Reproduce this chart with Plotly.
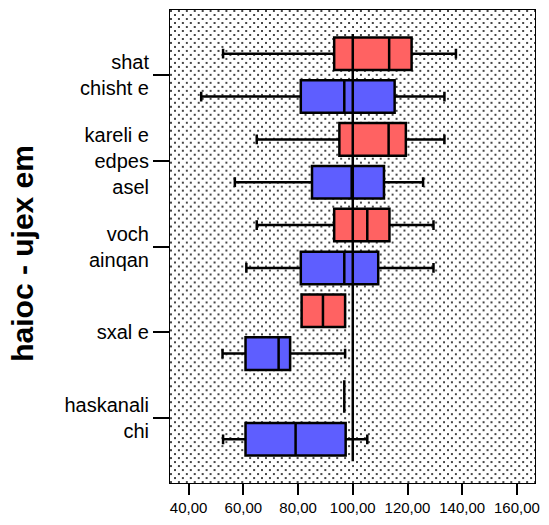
import zlib, struct, base64
import plotly.graph_objects as go

# ---------------- data ----------------
categories = ["shat<br>chisht e", "kareli e<br>edpes<br>asel", "voch<br>ainqan", "sxal e", "haskanali<br>chi"]

red_q1 = [93.2, 95.1, 93.2, 81.3, 96.9]
red_median = [113.3, 113.1, 105.3, 89.1, 96.9]
red_q3 = [121.5, 119.4, 113.4, 97.2, 96.9]
red_low = [52.6, 64.9, 64.9, 81.3, 96.9]
red_high = [137.7, 133.5, 129.5, 97.2, 96.9]

blue_q1 = [81.0, 85.1, 81.0, 60.8, 60.8]
blue_median = [96.9, 99.6, 96.9, 72.9, 79.1]
blue_q3 = [115.3, 111.4, 109.3, 77.1, 97.4]
blue_low = [44.6, 56.9, 61.1, 52.4, 52.6]
blue_high = [133.5, 125.7, 129.5, 97.2, 105.3]

x_ticks = [40, 60, 80, 100, 120, 140, 160]
reference_value = 100

# ---------------- dotted background image ----------------
W, H = 369, 474
def make_png(w, h):
    rows = []
    for y in range(h):
        row = bytearray(b'\x00')
        for x in range(w):
            mx, my = x % 8, y % 8
            dot = (mx < 2 and my < 2) or (4 <= mx < 6 and 4 <= my < 6)
            row.append(70 if dot else 255)
        rows.append(bytes(row))
    raw = b''.join(rows)
    def chunk(t, d):
        c = struct.pack('>I', len(d)) + t + d
        return c + struct.pack('>I', zlib.crc32(t + d) & 0xffffffff)
    return (b'\x89PNG\r\n\x1a\n'
            + chunk(b'IHDR', struct.pack('>IIBBBBB', w, h, 8, 0, 0, 0, 0))
            + chunk(b'IDAT', zlib.compress(raw))
            + chunk(b'IEND', b''))
bg_uri = "data:image/png;base64," + base64.b64encode(make_png(W, H)).decode()

FONT = "Liberation Sans, Arial, sans-serif"

fig = go.Figure()
fig.add_trace(go.Box(
    name="red", orientation="h", y=categories,
    q1=red_q1, median=red_median, q3=red_q3,
    lowerfence=red_low, upperfence=red_high,
    fillcolor="#FF6262", line=dict(color="black", width=2.5),
    whiskerwidth=0.3, boxpoints=False, showlegend=False,
))
fig.add_trace(go.Box(
    name="blue", orientation="h", y=categories,
    q1=blue_q1, median=blue_median, q3=blue_q3,
    lowerfence=blue_low, upperfence=blue_high,
    fillcolor="#5E5EFF", line=dict(color="black", width=2.5),
    whiskerwidth=0.3, boxpoints=False, showlegend=False,
))

fig.add_shape(type="line", xref="x", yref="paper",
              x0=reference_value, x1=reference_value, y0=0.046, y1=0.949,
              line=dict(color="black", width=2.5), layer="above")

fig.add_layout_image(dict(source=bg_uri, xref="paper", yref="paper",
                          x=0, y=1, sizex=1, sizey=1, sizing="stretch",
                          xanchor="left", yanchor="top", layer="below"))

fig.add_annotation(text="<b>haioc - ujex em</b>", xref="paper", yref="paper",
                   x=-0.405, y=0.485, textangle=-90, showarrow=False,
                   xanchor="center", yanchor="middle",
                   font=dict(family=FONT, size=30, color="black"))

fig.update_layout(
    width=549, height=525,
    margin=dict(l=170, r=10, t=9, b=42, pad=0),
    paper_bgcolor="white", plot_bgcolor="white",
    boxmode="group", boxgap=0, boxgroupgap=0.24,
    separators=",.",
    font=dict(family=FONT, color="black"),
)
fig.update_xaxes(
    range=[33.2, 166.6], tickvals=x_ticks, tickformat=".2f",
    ticks="outside", ticklen=11, tickwidth=2, tickcolor="black",
    showline=True, mirror=True, linecolor="black", linewidth=1,
    showgrid=False, zeroline=False,
    tickfont=dict(family=FONT, size=15, color="black"),
)
fig.update_yaxes(
    type="category", categoryorder="array", categoryarray=categories,
    range=[4.76, -0.76],
    ticks="outside", ticklen=16, tickwidth=2, tickcolor="black",
    showline=True, mirror=True, linecolor="black", linewidth=1,
    showgrid=False, zeroline=False,
    tickfont=dict(family=FONT, size=20, color="black"),
)

fig.write_html("out.html")
